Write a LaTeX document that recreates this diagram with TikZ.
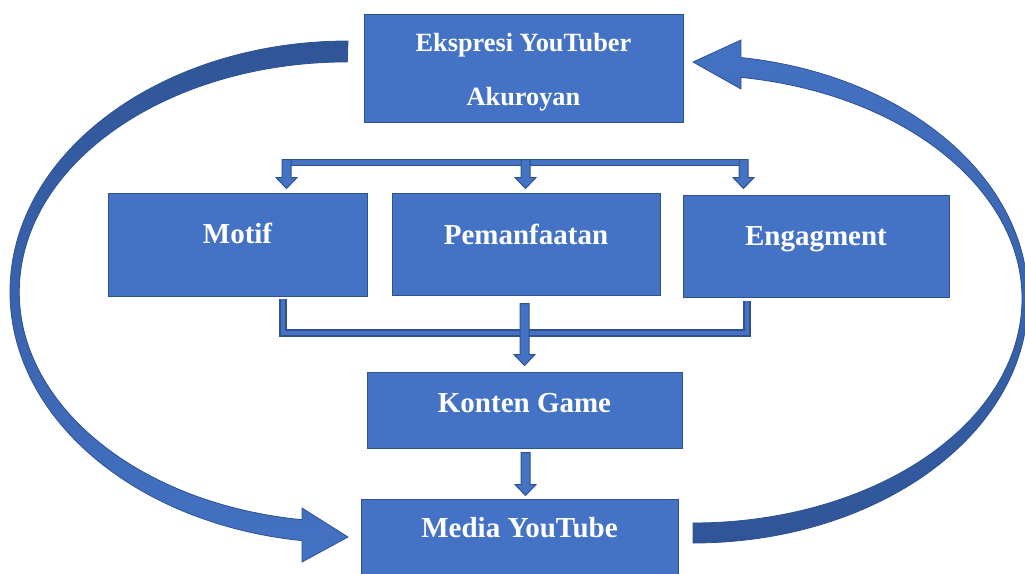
\documentclass[tikz,border=0pt]{standalone}
\usepackage{fontspec}
\setmainfont{Liberation Serif}
\usetikzlibrary{calc}
\definecolor{boxblue}{HTML}{4472C4}
\definecolor{boxline}{HTML}{2F528F}
\definecolor{arcdark}{HTML}{2F5597}
\tikzset{
  box/.style={draw=boxline, line width=1pt, fill=boxblue, inner sep=0pt},
  boxtext/.style={text=white, font=\bfseries\fontsize{29}{34}\selectfont, anchor=base, inner sep=0pt},
  bar/.style={draw=boxline, line width=1.2pt, double=boxblue, double distance=4.8pt, line join=miter},
  blockarrow/.style={fill=boxblue, draw=boxline, line width=1pt, line join=miter},
  bigarrow/.style={draw=boxline, line width=0.8pt},
}
% block arrow pointing down: #1 start, #2 tip
\newcommand{\blockdown}[2]{%
  \filldraw[blockarrow] let \p1=(#1), \p2=(#2) in
    (\x1-4.5pt,\y1) -- (\x1+4.5pt,\y1) -- (\x1+4.5pt,\y2+11pt) -- (\x1+10.5pt,\y2+11pt)
    -- (\x1,\y2) -- (\x1-10.5pt,\y2+11pt) -- (\x1-4.5pt,\y2+11pt) -- cycle;}
\begin{document}
\begin{tikzpicture}[x=1pt,y=-1pt]
  \useasboundingbox (0,0) rectangle (1025,573);
  %% big arrow on the left
  \path[bigarrow, top color=arcdark, bottom color=boxblue]
    (348,41) arc[start angle=-90, end angle=-262.18, x radius=338, y radius=251]
    -- (302,562) -- (348,537) -- (302,508) -- (302,519.7)
    arc[start angle=-262.06, end angle=-90, x radius=328, y radius=230] -- cycle;
  %% big arrow on the right
  \path[bigarrow, top color=boxblue, bottom color=arcdark]
    (693,543) arc[start angle=90, end angle=-81.77, x radius=335, y radius=244]
    -- (741,40) -- (693,62) -- (741,89) -- (741,77.4)
    arc[start angle=-81.61, end angle=90, x radius=329, y radius=224] -- cycle;
  %% boxes
  \node[box, minimum width=319, minimum height=108] (ekspresi) at (523.5,68) {};
  \node[box, minimum width=259, minimum height=103] (motif) at (237.5,244.5) {};
  \node[box, minimum width=268, minimum height=102] (pemanfaatan) at (526,244) {};
  \node[box, minimum width=266, minimum height=102] (engagment) at (816,246) {};
  \node[box, minimum width=315, minimum height=76] (konten) at (524.5,410) {};
  \node[box, minimum width=317, minimum height=90] (media) at (519.5,544) {};
  %% texts
  \node[boxtext, font=\bfseries\fontsize{26.3}{30}\selectfont] (ekspresiA) at (523.5,51) {Ekspresi YouTuber};
  \node[boxtext, font=\bfseries\fontsize{26.3}{30}\selectfont] (ekspresiB) at (523.5,105) {Akuroyan};
  \node[boxtext] (motifT) at (237.5,243) {Motif};
  \node[boxtext] (pemanfaatanT) at (526,244) {Pemanfaatan};
  \node[boxtext] (engagmentT) at (816,245) {Engagment};
  \node[boxtext] (kontenT) at (524.5,412) {Konten Game};
  \node[boxtext] (mediaT) at (519.5,537) {Media YouTube};
  %% top bar with three drops
  \coordinate (barL) at (286.5,162.5);
  \coordinate (barM) at (525.5,162.5);
  \coordinate (barR) at (743.5,162.5);
  \draw[bar] ($(barL)+(0,4)$) -- (barL) -- (barR) -- ($(barR)+(0,4)$);
  \blockdown{$(barL)+(0,-3)$}{$(barL |- motif.north)+(0,-4)$}
  \blockdown{$(barM)+(0,-3)$}{$(barM |- pemanfaatan.north)+(0,-4)$}
  \blockdown{$(barR)+(0,-3)$}{$(barR |- engagment.north)+(0,-6)$}
  %% bottom bar into Konten Game
  \coordinate (joinL) at (283,333);
  \coordinate (joinR) at (747,333);
  \draw[bar] (joinL |- motif.south) ++(0,2) -- (joinL) -- (joinR) -- ($(joinR |- engagment.south)+(0,3)$);
  \blockdown{$(pemanfaatan.south -| konten.north)+(0,8)$}{$(konten.north)+(0,-6)$}
  %% Konten Game to Media YouTube
  \blockdown{$(konten.south)+(1,4)$}{$(media.north -| konten.south)+(1,-3)$}
\end{tikzpicture}
\end{document}
